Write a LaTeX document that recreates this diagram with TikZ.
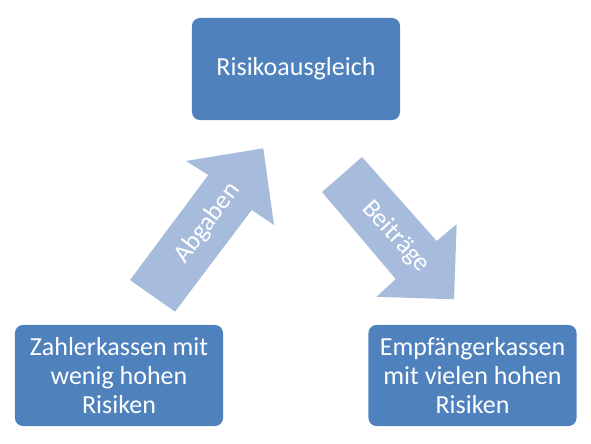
\documentclass[tikz,border=0pt]{standalone}
\usepackage{fontspec}
\setmainfont{Carlito}
\usepackage{tikz}
\usetikzlibrary{positioning}
\definecolor{kasse}{RGB}{79,129,189}
\definecolor{fluss}{RGB}{167,188,220}
\tikzset{
  kassenbox/.style={rectangle,rounded corners=0.2cm,fill=kasse,text=white,align=center,
    inner sep=0pt,minimum width=5.2cm,minimum height=2.525cm,font=\fontsize{18.5}{20.5}\selectfont},
  flusstext/.style={text=white,inner sep=0pt,font=\fontsize{18.5}{20.5}\selectfont}
}

\begin{document}
\begin{tikzpicture}[x=0.025cm,y=-0.025cm]
\useasboundingbox (0,0) rectangle (591,444);
% Boxes
\node[kassenbox,minimum height=2.55cm] (ausgleich) at (296,69) {Risikoausgleich};
\node[kassenbox] (zahler) at (119,375.5) {Zahlerkassen mit\\wenig hohen\\Risiken};
\node[kassenbox] (empfaenger) at (472.5,375.5) {Empfängerkassen\\mit vielen hohen\\Risiken};
% Arrow up (Abgaben)
\fill[fluss] (130,280) -- (208.3,175) -- (186,161) -- (263.3,148.3) -- (274,225)
  -- (251.7,210) -- (175,311.7) -- cycle;
\node[flusstext,rotate=53.2] (abgaben) at (207.5,223.3) {Abgaben};
% Arrow down (Beitraege)
\fill[fluss] (362,157) -- (436.7,241) -- (456.7,224) -- (454,299.3) -- (376.5,296.8)
  -- (395.7,279) -- (322,192) -- cycle;
\node[flusstext,rotate=-47.2] (beitraege) at (395.8,236.7) {Beiträge};
\end{tikzpicture}
\end{document}
